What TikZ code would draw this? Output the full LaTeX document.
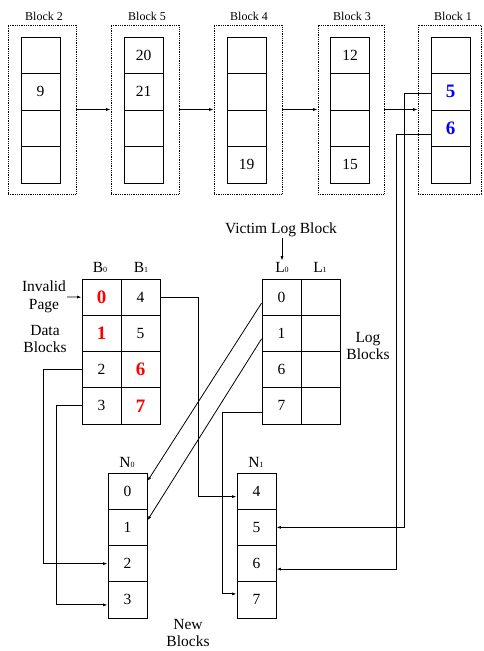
\documentclass[tikz,border=0pt]{standalone}
\usepackage{fontspec}
\setmainfont{Liberation Serif}
\usetikzlibrary{arrows.meta}

% page numbers in a block: normal, invalid (red) and highlighted (blue)
\newcommand\hotnum[1]{\textcolor{red}{\fontsize{19}{19}\selectfont\bfseries #1}}
\newcommand\bluenum[1]{\textcolor{blue}{\fontsize{19}{19}\selectfont\bfseries #1}}
\newcommand\sub[1]{{\fontsize{8}{8}\selectfont #1}}

\tikzset{
  cell/.style={draw, line width=0.9pt, minimum width=39pt, inner sep=0pt,
    font=\fontsize{15.5}{15.5}\selectfont},
  outerbox/.style={draw, line width=0.7pt, dash pattern=on 0.9pt off 0.9pt, inner sep=0pt},
  conn/.style={line width=0.8pt},
  arr/.style={conn, -{Latex[length=4.5pt,width=3pt]}},
  lbl/.style={font=\fontsize{15.5}{17.5}\selectfont, align=center, inner sep=1pt},
  blk/.style={font=\fontsize{12}{12}\selectfont, inner sep=1pt},
}

% a column of four cells: name, x centre, top y, cell height, four contents
\newcommand\cellcol[8]{%
  \node[cell, minimum height=#4pt] (#1r1) at (#2, {#3+0.5*#4}) {#5};
  \node[cell, minimum height=#4pt] (#1r2) at (#2, {#3+1.5*#4}) {#6};
  \node[cell, minimum height=#4pt] (#1r3) at (#2, {#3+2.5*#4}) {#7};
  \node[cell, minimum height=#4pt] (#1r4) at (#2, {#3+3.5*#4}) {#8};
}

\begin{document}
\begin{tikzpicture}[x=1pt, y=-1pt]
  \useasboundingbox (0,0) rectangle (483,651);

  % ---- chain of blocks along the top ----
  \node[outerbox, minimum width=68pt, minimum height=169pt] (o2) at (42,109.5) {};
  \node[outerbox, minimum width=68pt, minimum height=169pt] (o5) at (145,109.5) {};
  \node[outerbox, minimum width=68pt, minimum height=169pt] (o4) at (248,109.5) {};
  \node[outerbox, minimum width=66pt, minimum height=169pt] (o3) at (351,109.5) {};
  \node[outerbox, minimum width=63pt, minimum height=169pt] (o1) at (449.5,109.5) {};

  \cellcol{t2}{40.5}{37}{36.5}{}{9}{}{}
  \cellcol{t5}{143.5}{37}{36.5}{20}{21}{}{}
  \cellcol{t4}{246.5}{37}{36.5}{}{}{}{19}
  \cellcol{t3}{350}{37}{36.5}{12}{}{}{15}
  \cellcol{t1}{450.5}{37}{36.5}{}{\bluenum{5}}{\bluenum{6}}{}

  \node[blk] (lb2) at (44,16) {Block 2};
  \node[blk] (lb5) at (147,16) {Block 5};
  \node[blk] (lb4) at (249,16) {Block 4};
  \node[blk] (lb3) at (352,16) {Block 3};
  \node[blk] (lb1) at (453,16) {Block 1};

  \draw[arr] (o2.east) -- (o5.west);
  \draw[arr] (o5.east) -- (o4.west);
  \draw[arr] (o4.east) -- (o3.west);
  \draw[arr] (o3.east) -- (o1.west);

  % ---- data blocks ----
  \cellcol{b0}{101.5}{279}{36.25}{\hotnum{0}}{\hotnum{1}}{2}{3}
  \cellcol{b1}{140.5}{279}{36.25}{4}{5}{\hotnum{6}}{\hotnum{7}}
  \node[lbl] (hb0) at (100,267) {B\sub{0}};
  \node[lbl] (hb1) at (141,267) {B\sub{1}};
  \node[lbl] (invalid) at (44,297) {Invalid\\Page};
  \node[lbl] (data) at (45,339) {Data\\Blocks};
  \draw[arr] (invalid.east) -- (b0r1.west);

  % ---- log blocks ----
  \cellcol{l0}{281.5}{279}{36.25}{0}{1}{6}{7}
  \cellcol{l1}{320.5}{279}{36.25}{}{}{}{}
  \node[lbl] (hl0) at (282,267) {L\sub{0}};
  \node[lbl] (hl1) at (320,267) {L\sub{1}};
  \node[lbl] (victim) at (281,230) {Victim Log Block};
  \node[lbl] (logs) at (368,346) {Log\\Blocks};
  \draw[arr] (victim.south -| hl0) -- (hl0.north);

  % ---- new blocks ----
  \cellcol{n0}{127.5}{473}{36.25}{0}{1}{2}{3}
  \cellcol{n1}{256.5}{473}{36.25}{4}{5}{6}{7}
  \node[lbl] (hn0) at (127,462) {N\sub{0}};
  \node[lbl] (hn1) at (256,462) {N\sub{1}};
  \node[lbl] (newb) at (188,633) {New\\Blocks};

  % ---- merge: valid pages copied into the new blocks ----
  \draw[arr] ([yshift=-6pt]l0r1.west) -- ([yshift=10pt]n0r1.east);
  \draw[arr] ([yshift=-5.5pt]l0r2.west) -- ([yshift=7pt]n0r2.east);
  \draw[arr] (b0r3.west) -- ++(-38,0) |- (n0r3.west);
  \draw[arr] (b0r4.west) -- ++(-25,0) |- ([yshift=-5pt]n0r4.west);
  \draw[arr] (b1r1.east) -- ++(38,0) |- ([yshift=-5.5pt]n1r1.west);
  \draw[arr] ([yshift=-7pt]l0r4.west) -- ++(-39,0) |- ([yshift=6pt]n1r4.west);
  \draw[arr] ([yshift=-1.5pt]t1r2.west) -- ++(-26,0) |- (n1r2.east);
  \draw[arr] ([yshift=-6pt]t1r3.west) -- ++(-34,0) |- ([yshift=-5.5pt]n1r3.east);
\end{tikzpicture}
\end{document}
